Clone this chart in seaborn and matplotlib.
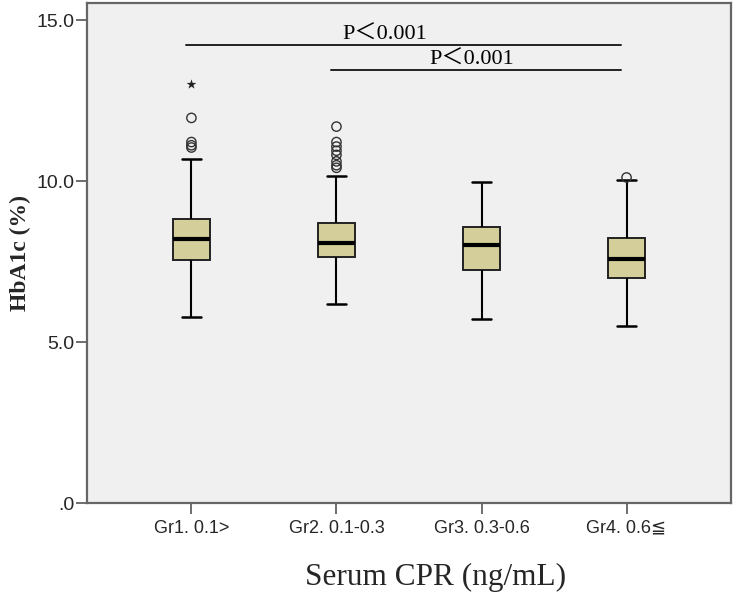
import numpy as np
import pandas as pd
import matplotlib
matplotlib.use("Agg")
import matplotlib.pyplot as plt
import seaborn as sns

# --- values (HbA1c %, per serum CPR group) ---
groups = ["Gr1. 0.1>", "Gr2. 0.1-0.3", "Gr3. 0.3-0.6", "Gr4. 0.6≦"]
whisker_low = [5.80, 6.19, 5.72, 5.51]
q1 = [7.56, 7.65, 7.25, 7.01]
median = [8.20, 8.09, 8.02, 7.58]
q3 = [8.82, 8.72, 8.59, 8.23]
whisker_high = [10.70, 10.16, 9.99, 10.03]
outliers = [
    [11.97, 11.22, 11.12, 11.05],
    [11.70, 11.22, 11.08, 10.95, 10.82, 10.62, 10.50, 10.42],
    [],
    [10.12],
]
extremes = [[13.02], [], [], []]

# significance brackets
p_labels = ["P＜0.001", "P＜0.001"]
p_from = [0, 1]
p_to = [3, 3]
p_y = [14.23, 13.47]
p_text_x = [1.33, 1.93]

BOX_COLOR = "#D4CF9A"
BG_COLOR = "#F0F0F0"
EDGE = "#222222"
SANS = ["Liberation Sans", "DejaVu Sans", "Noto Sans CJK JP"]
SERIF = ["Liberation Serif", "Noto Sans CJK JP"]


def build_long_table():
    """Expand the read-off box stats into a sample whose quartiles match."""
    rows = []
    for i, g in enumerate(groups):
        vals = ([whisker_low[i]] + [q1[i]] * 20 + [median[i]] * 20
                + [q3[i]] * 20 + [whisker_high[i]] + outliers[i] + extremes[i])
        rows += [(g, v) for v in vals]
    return pd.DataFrame(rows, columns=["group", "hba1c"])


df = build_long_table()

sns.set_style("ticks")
fig = plt.figure(figsize=(7.34, 5.93), dpi=100)
ax = fig.add_axes([0.1185, 0.1513, 0.8774, 0.8437])
ax.set_facecolor(BG_COLOR)

sns.boxplot(
    data=df, x="group", y="hba1c", order=groups,
    width=0.255, color=BOX_COLOR, saturation=1,
    linecolor=EDGE, linewidth=1.4, showfliers=False,
    medianprops=dict(color="black", linewidth=3),
    whiskerprops=dict(color="black", linewidth=1.5),
    capprops=dict(color="black", linewidth=1.8),
    ax=ax,
)

# outliers (circles) and extreme values (stars), SPSS style
for i in range(len(groups)):
    if outliers[i]:
        ax.scatter(np.full(len(outliers[i]), i), outliers[i], s=45,
                   facecolors="none", edgecolors="#333333", linewidths=1.0, zorder=4)
    if extremes[i]:
        ax.scatter(np.full(len(extremes[i]), i), extremes[i], s=55,
                   marker="*", color="#222222", linewidths=0, zorder=4)

# significance lines
for lab, a, b, y, tx in zip(p_labels, p_from, p_to, p_y, p_text_x):
    ax.plot([a - 0.035, b - 0.035], [y, y], color="#222222", lw=1.4)
    ax.text(tx, y + 0.16, lab, ha="center", va="baseline",
            fontsize=16, family=SERIF, color="black")

ax.set_xlim(-0.72, 3.72)
ax.set_ylim(0, 15.54)
ax.set_yticks([0, 5, 10, 15])
ax.set_yticklabels([".0", "5.0", "10.0", "15.0"], family=SANS, fontsize=14)
ax.set_xticks(range(len(groups)))
ax.set_xticklabels(groups, family=SANS, fontsize=13)
ax.tick_params(axis="both", direction="out", length=8, width=1.2, color="#555555")
ax.tick_params(axis="y", pad=1)
ax.tick_params(axis="x", pad=4)

for side in ["top", "right", "left", "bottom"]:
    ax.spines[side].set_visible(True)
    ax.spines[side].set_color("#666666")
    ax.spines[side].set_linewidth(1.6)

ax.set_xlabel("Serum CPR (ng/mL)", family=SERIF, fontsize=22.5)
ax.xaxis.set_label_coords(0.542, -0.119)
ax.set_ylabel("HbA1c (%)", family=SERIF, fontsize=17, fontweight="bold")
ax.yaxis.set_label_coords(-0.087, 0.5)

fig.savefig("out.png", dpi=100, facecolor="white")
plt.close(fig)
